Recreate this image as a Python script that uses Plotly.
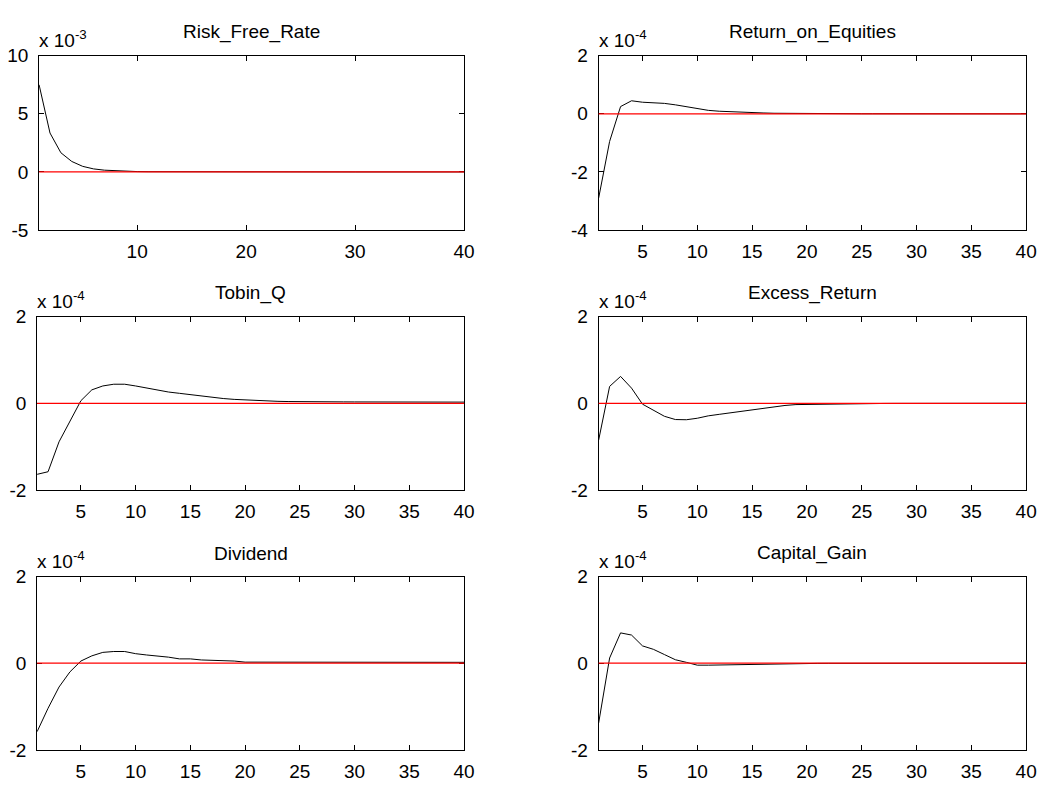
import plotly.graph_objects as go

# ---------------- data ----------------
periods = list(range(1, 41))

titles = ["Risk_Free_Rate", "Return_on_Equities", "Tobin_Q",
          "Excess_Return", "Dividend", "Capital_Gain"]

exponents = [-3, -4, -4, -4, -4, -4]

# values expressed in units of 10^exponent (as on the axes)
risk_free_rate = [7.5, 3.35, 1.65, 0.9, 0.48, 0.26, 0.15, 0.09, 0.05, 0.03,
                  0.02, 0.015, 0.01, 0.008, 0.006, 0.005, 0.004, 0.003, 0.002, 0.002,
                  0.001, 0.001, 0.001, 0.001, 0.001, 0.0, 0.0, 0.0, 0.0, 0.0,
                  0.0, 0.0, 0.0, 0.0, 0.0, 0.0, 0.0, 0.0, 0.0, 0.0]

return_on_equities = [-2.9, -0.95, 0.25, 0.45, 0.4, 0.39, 0.36, 0.31, 0.24, 0.18,
                      0.12, 0.09, 0.07, 0.05, 0.04, 0.03, 0.02, 0.015, 0.01, 0.01,
                      0.008, 0.006, 0.005, 0.004, 0.003, 0.003, 0.002, 0.002, 0.001, 0.001,
                      0.001, 0.001, 0.0, 0.0, 0.0, 0.0, 0.0, 0.0, 0.0, 0.0]

tobin_q = [-1.64, -1.58, -0.89, -0.4, 0.06, 0.31, 0.4, 0.44, 0.44, 0.4,
           0.35, 0.3, 0.26, 0.23, 0.2, 0.16, 0.14, 0.11, 0.09, 0.075,
           0.065, 0.06, 0.045, 0.04, 0.035, 0.035, 0.034, 0.033, 0.032, 0.031,
           0.03, 0.03, 0.03, 0.029, 0.029, 0.028, 0.028, 0.028, 0.027, 0.027]

excess_return = [-0.85, 0.39, 0.62, 0.35, -0.02, -0.17, -0.3, -0.375, -0.38, -0.345,
                 -0.29, -0.255, -0.22, -0.18, -0.14, -0.105, -0.07, -0.05, -0.03, -0.025,
                 -0.02, -0.015, -0.01, -0.008, -0.006, -0.005, -0.004, -0.003, -0.003, -0.002,
                 -0.002, -0.001, -0.001, -0.001, 0.0, 0.0, 0.0, 0.0, 0.0, 0.0]

dividend = [-1.58, -1.04, -0.55, -0.2, 0.05, 0.17, 0.25, 0.27, 0.27, 0.22,
            0.19, 0.17, 0.14, 0.1, 0.1, 0.075, 0.07, 0.06, 0.05, 0.025,
            0.024, 0.023, 0.022, 0.022, 0.021, 0.021, 0.02, 0.02, 0.02, 0.02,
            0.02, 0.02, 0.02, 0.02, 0.02, 0.02, 0.02, 0.02, 0.02, 0.02]

capital_gain = [-1.38, 0.12, 0.7, 0.65, 0.4, 0.32, 0.2, 0.08, 0.02, -0.045,
                -0.045, -0.04, -0.04, -0.035, -0.02, -0.015, -0.01, -0.008, -0.006, -0.005,
                -0.004, -0.003, -0.002, -0.002, -0.001, -0.001, 0.0, 0.0, 0.0, 0.0,
                0.0, 0.0, 0.0, 0.0, 0.0, 0.0, 0.0, 0.0, 0.0, 0.0]

series = [risk_free_rate, return_on_equities, tobin_q,
          excess_return, dividend, capital_gain]

y_ranges = [[-5, 10], [-4, 2], [-2, 2], [-2, 2], [-2, 2], [-2, 2]]
y_ticks = [[-5, 0, 5, 10], [-4, -2, 0, 2], [-2, 0, 2], [-2, 0, 2], [-2, 0, 2], [-2, 0, 2]]
x_ticks = [[10, 20, 30, 40], [5, 10, 15, 20, 25, 30, 35, 40], [5, 10, 15, 20, 25, 30, 35, 40],
           [5, 10, 15, 20, 25, 30, 35, 40], [5, 10, 15, 20, 25, 30, 35, 40],
           [5, 10, 15, 20, 25, 30, 35, 40]]

# ---------------- layout geometry (pixels) ----------------
W, H = 1049, 792
col_px = [(39.5, 469), (605, 1037), (37.5, 469), (605, 1037), (37.5, 469), (605, 1037)]
row_px = [(47, 226), (47, 226), (315, 493), (315, 493), (582, 760), (582, 760)]

FONT = "Liberation Sans, Arial, sans-serif"
TICK_SIZE = 19
TITLE_SIZE = 19

fig = go.Figure()
layout = dict(width=W, height=H, margin=dict(l=0, r=0, t=0, b=0),
              paper_bgcolor="white", plot_bgcolor="white", showlegend=False,
              font=dict(family=FONT, size=TICK_SIZE, color="black"))
annotations = []
shapes = []

for i in range(6):
    n = i + 1
    xa = "x" if n == 1 else f"x{n}"
    ya = "y" if n == 1 else f"y{n}"
    xl, xr = col_px[i]
    yt, yb = row_px[i]
    xdom = [xl / W, xr / W]
    ydom = [1 - yb / H, 1 - yt / H]
    axis_common = dict(showgrid=False, zeroline=False, showline=True, linecolor="black",
                       linewidth=1, mirror="ticks", ticks="inside", ticklen=5,
                       tickwidth=1, tickcolor="black",
                       tickfont=dict(family=FONT, size=TICK_SIZE, color="black"))
    layout["xaxis" if n == 1 else f"xaxis{n}"] = dict(
        domain=xdom, range=[1, 40], anchor=ya, tickmode="array",
        tickvals=x_ticks[i], ticktext=[str(v) for v in x_ticks[i]],
        ticklabelstandoff=4, **axis_common)
    layout["yaxis" if n == 1 else f"yaxis{n}"] = dict(
        domain=ydom, range=y_ranges[i], anchor=xa, tickmode="array",
        tickvals=y_ticks[i], ticktext=[str(v) for v in y_ticks[i]],
        ticklabelstandoff=6, **axis_common)

    fig.add_trace(go.Scatter(x=periods, y=series[i], mode="lines",
                             line=dict(color="black", width=1),
                             xaxis=xa, yaxis=ya, hoverinfo="skip"))
    # red zero line drawn above the curve
    shapes.append(dict(type="line", xref=f"{xa} domain", yref=ya,
                       x0=0, x1=1, y0=0, y1=0, layer="above",
                       line=dict(color="red", width=1.3)))
    # title
    annotations.append(dict(text=titles[i], xref="paper", yref="paper",
                            x=(xdom[0] + xdom[1]) / 2, y=ydom[1],
                            xanchor="center", yanchor="bottom", yshift=11,
                            showarrow=False,
                            font=dict(family=FONT, size=TITLE_SIZE, color="black")))
    # exponent label
    annotations.append(dict(text=f"x 10<sup>{exponents[i]}</sup>", xref="paper", yref="paper",
                            x=xdom[0], y=ydom[1], xanchor="left", yanchor="bottom",
                            yshift=3, xshift=-2, showarrow=False,
                            font=dict(family=FONT, size=TICK_SIZE, color="black")))

layout["annotations"] = annotations
layout["shapes"] = shapes
fig.update_layout(**layout)
fig.write_html("out.html", config={"displayModeBar": False},
               post_script="document.body.style.margin='0';document.body.style.padding='0';")
